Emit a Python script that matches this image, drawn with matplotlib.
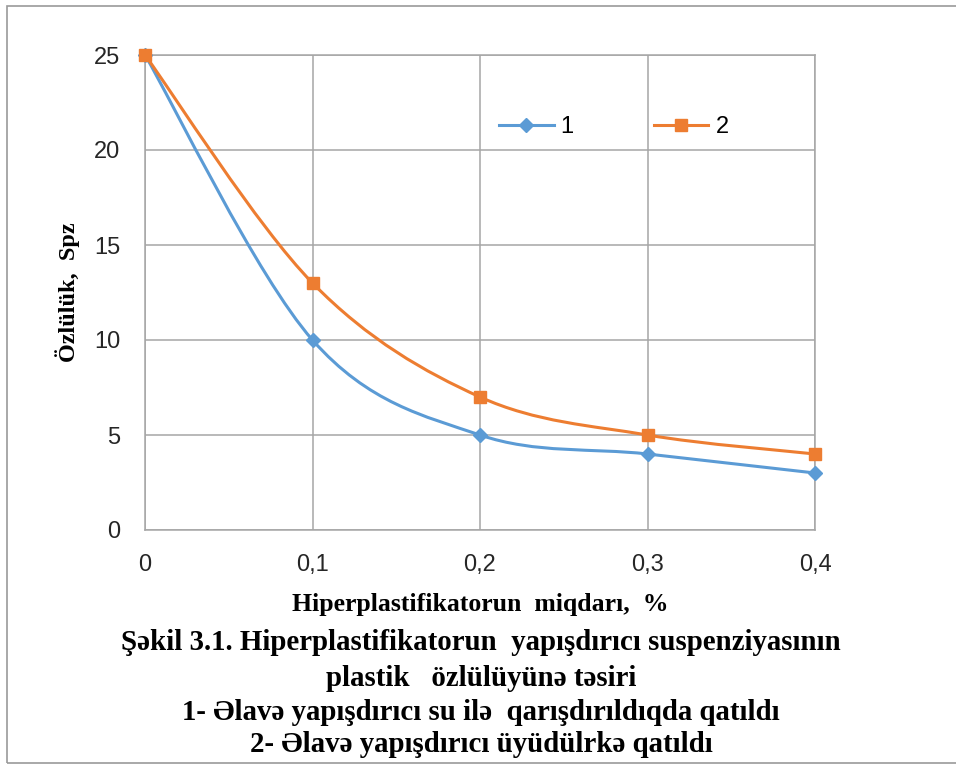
import matplotlib.pyplot as plt
from matplotlib.path import Path
from matplotlib.patches import PathPatch, Rectangle
from matplotlib.lines import Line2D
import numpy as np

# data
x_vals = [0, 0.1, 0.2, 0.3, 0.4]
series_1 = [25, 10, 5, 4, 3]
series_2 = [25, 13, 7, 5, 4]
series_names = ["1", "2"]
x_ticks = [0, 0.1, 0.2, 0.3, 0.4]
x_tick_labels = ["0", "0,1", "0,2", "0,3", "0,4"]
y_ticks = [0, 5, 10, 15, 20, 25]

x_label = "Hiperplastifikatorun  miqdarı,  %"
y_label = "Özlülük,  Spz"
caption = ["Şəkil 3.1. Hiperplastifikatorun  yapışdırıcı suspenziyasının",
           "plastik   özlülüyünə təsiri",
           "1- Əlavə yapışdırıcı su ilə  qarışdırıldıqda qatıldı",
           "2- Əlavə yapışdırıcı üyüdülrkə qatıldı"]

blue = "#5B9BD5"
orange = "#ED7D31"
grid_c = "#A6A6A6"
serif = ["Liberation Serif", "DejaVu Serif"]


def smooth_path(xs, ys, t=1/6):
    # excel-like smoothed line: cubic bezier with catmull-rom handles
    p = np.column_stack([xs, ys]).astype(float)
    verts = [p[0]]
    codes = [Path.MOVETO]
    n = len(p)
    for i in range(n - 1):
        p0 = p[i - 1] if i > 0 else p[i]
        p3 = p[i + 2] if i + 2 < n else p[i + 1]
        c1 = p[i] + (p[i + 1] - p0) * t
        c2 = p[i + 1] - (p3 - p[i]) * t
        verts += [c1, c2, p[i + 1]]
        codes += [Path.CURVE4] * 3
    return Path(verts, codes)


fig = plt.figure(figsize=(9.56, 7.65), dpi=100)
ax = fig.add_axes([145/956, 1 - 530/765, 670/956, 475/765])

for ys, col, mk, ms in [(series_1, blue, "D", 7), (series_2, orange, "s", 8)]:
    ax.add_patch(PathPatch(smooth_path(x_vals, ys), fill=False, edgecolor=col,
                           lw=2.2, capstyle="round", zorder=3))
    ax.plot(x_vals, ys, ls="none", marker=mk, ms=ms, color=col, zorder=4,
            clip_on=False)

ax.set_xlim(0, 0.4)
ax.set_ylim(0, 25)
ax.set_xticks(x_ticks)
ax.set_xticklabels(x_tick_labels)
ax.set_yticks(y_ticks)
ax.grid(True, color=grid_c, lw=1.1)
ax.set_axisbelow(True)
for s in ax.spines.values():
    s.set_color(grid_c)
    s.set_linewidth(1.1)
ax.tick_params(length=0, labelsize=17, colors="#262626")
ax.tick_params(axis="x", pad=17)
ax.tick_params(axis="y", pad=18)
for lab in ax.get_xticklabels() + ax.get_yticklabels():
    lab.set_family("Liberation Sans")

ax.set_ylabel(y_label, family=serif, fontweight="bold",
              fontsize=17.5, labelpad=10)

handles = [Line2D([], [], color=blue, lw=2.2, marker="D", ms=7),
           Line2D([], [], color=orange, lw=2.2, marker="s", ms=8)]
fig.legend(handles, series_names, loc="center left",
           bbox_to_anchor=(478/956, 1 - 127/765), ncol=2, frameon=False,
           prop={"family": "Liberation Sans", "size": 17},
           handlelength=2.3, handletextpad=0.3, columnspacing=3.4)

fig.text(480/956, 1 - 604/765, x_label, ha="center", va="center",
         family=serif, fontweight="bold", fontsize=18.5)
for yy, line in zip([643, 678, 713, 745], caption):
    fig.text(481/956, 1 - yy/765, line, ha="center", va="center",
             family=serif, fontweight="bold", fontsize=20.8)

# outer chart frame
fig.patches.append(Rectangle((7/956, 1 - 763/765), 1.0, 757/765,
                             transform=fig.transFigure, fill=False,
                             edgecolor="#9A9A9A", lw=1.2))

fig.savefig("out.png", dpi=100)
